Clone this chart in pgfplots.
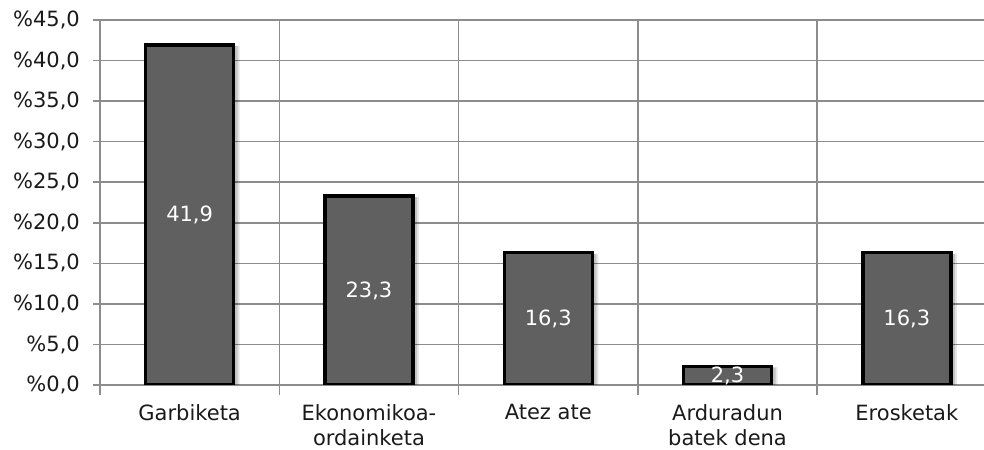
\documentclass[border=0pt]{standalone}
\usepackage{pgfplots}
\pgfplotsset{compat=1.18}
\usepackage{fontspec}
\setmainfont{DejaVu Sans}
\usetikzlibrary{shadows}
\definecolor{barfill}{HTML}{606060}
\definecolor{gridc}{HTML}{8C8C8C}
\definecolor{txt}{HTML}{1A1A1A}
\begin{document}
\fontsize{21bp}{25bp}\selectfont
\begin{tikzpicture}
\begin{axis}[
  at={(100bp,65bp)}, anchor=south west,
  scale only axis, width=896.5bp, height=365bp,
  xmin=-0.5, xmax=4.5, ymin=0, ymax=45,
  ytick={0,5,...,45},
  xtick={0,...,4},
  xticklabels={Garbiketa, {Ekonomikoa-\\ordainketa}, Atez ate, {Arduradun\\batek dena}, Erosketak},
  xticklabel style={align=center, font=\fontsize{21bp}{25bp}\selectfont, text=txt, yshift=-5bp},
  yticklabel style={font=\fontsize{21bp}{25bp}\selectfont, text=txt, xshift=-6bp},
  yticklabel={\%\pgfmathprintnumber{\tick}},
  /pgf/number format/.cd, use comma, fixed, fixed zerofill, precision=1, assume math mode=true,
  /pgfplots/.cd,
  minor xtick={-0.5,0.5,1.5,2.5,3.5,4.5},
  xminorgrids, ymajorgrids,
  major x tick style={draw=none},
  tick align=outside,
  major tick length=7bp, minor tick length=10bp,
  axis lines*=left,
  axis line style={gridc, line width=1.5bp},
  grid style={gridc, line width=1.5bp},
  minor grid style={gridc, line width=1.5bp},
  every tick/.style={gridc, line width=1.5bp},
  ybar, bar width=88bp,
  visualization depends on=rawy \as \rawy,
  nodes near coords,
  every node near coord/.append style={white, anchor=center, font=\fontsize{21bp}{25bp}\selectfont, yshift={-\rawy*4.0556bp}},
]
\addplot[fill=barfill, draw=black, line width=3.3bp,
  drop shadow={shadow xshift=6bp, shadow yshift=-1bp, opacity=0.10, fill=black, draw=none},
  drop shadow={shadow xshift=4bp, shadow yshift=-1bp, opacity=0.15, fill=black, draw=none}] coordinates {(0,41.9) (1,23.3) (2,16.3) (3,2.3) (4,16.3)};
\end{axis}
\pgfresetboundingbox
\path (0,0) rectangle (984bp,450bp);
\end{tikzpicture}
\end{document}
